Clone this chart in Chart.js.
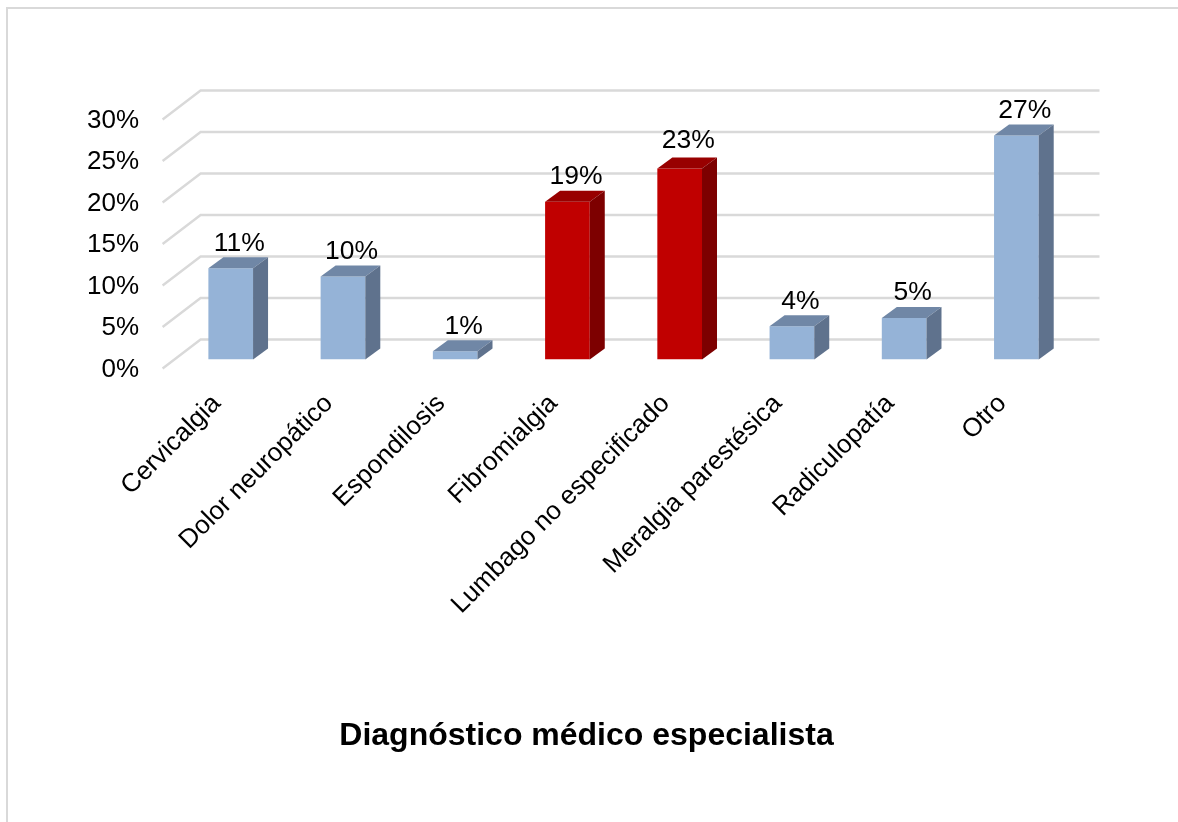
<!DOCTYPE html>
<html lang="es">
<head>
<meta charset="utf-8">
<title>Diagnóstico médico especialista</title>
<script src="https://cdn.jsdelivr.net/npm/chart.js@4"></script>
<style>
  html, body { margin: 0; padding: 0; background: #fff; overflow: hidden; }
  #frame {
    position: absolute; left: 6px; top: 7px; width: 1172px; height: 815px;
    border-left: 2px solid #d9d9d9; border-top: 2px solid #d9d9d9;
    box-sizing: border-box;
  }
  canvas { position: absolute; left: 0; top: 0; }
</style>
</head>
<body>
<div id="frame"></div>
<canvas id="myBarChart" width="1178" height="822"></canvas>
<script>
const categories = [
  "Cervicalgia",
  "Dolor neuropático",
  "Espondilosis",
  "Fibromialgia",
  "Lumbago no especificado",
  "Meralgia parestésica",
  "Radiculopatía",
  "Otro",
];
const percentages = [11, 10, 1, 19, 23, 4, 5, 27];
const highlighted = [false, false, false, true, true, false, false, false];
const axisTitle = "Diagnóstico médico especialista";

const FONT = '"Liberation Sans", Arial, sans-serif';
const BLUE = { front: "#95b3d7", top: "#7087a6", side: "#5f728d" };
const RED = { front: "#c00000", top: "#980000", side: "#7d0000" };

// Floor depth of the fake 3D box, measured from the bar plane
const barDepth = { x: 15, y: 11 };
const wallBack = { x: 26, y: 20 };
const wallFront = { x: -12, y: 9 };

// Back wall and left side lines, one pair per tick
const wallGrid = {
  id: "wallGrid",
  beforeDatasetsDraw(chart) {
    const { ctx, chartArea, scales } = chart;
    ctx.save();
    ctx.strokeStyle = "#d9d9d9";
    ctx.lineWidth = 2.4;
    scales.y.ticks.forEach((tick) => {
      const y = scales.y.getPixelForValue(tick.value);
      ctx.beginPath();
      ctx.moveTo(chartArea.left + wallFront.x, y + wallFront.y);
      ctx.lineTo(chartArea.left + wallBack.x, y - wallBack.y);
      ctx.lineTo(chartArea.right + wallBack.x + 1, y - wallBack.y);
      ctx.stroke();
    });
    ctx.restore();
  },
};

// Top and side faces of every bar, then the value above it
const barFaces = {
  id: "barFaces",
  afterDatasetsDraw(chart) {
    const { ctx } = chart;
    const bars = chart.getDatasetMeta(0).data;
    ctx.save();
    bars.forEach((bar, i) => {
      const colors = highlighted[i] ? RED : BLUE;
      const left = bar.x - bar.width / 2;
      const right = bar.x + bar.width / 2;
      const top = bar.y;
      const bottom = bar.base;

      ctx.fillStyle = colors.top;
      ctx.beginPath();
      ctx.moveTo(left, top);
      ctx.lineTo(left + barDepth.x, top - barDepth.y);
      ctx.lineTo(right + barDepth.x, top - barDepth.y);
      ctx.lineTo(right, top);
      ctx.closePath();
      ctx.fill();

      ctx.fillStyle = colors.side;
      ctx.beginPath();
      ctx.moveTo(right, top);
      ctx.lineTo(right + barDepth.x, top - barDepth.y);
      ctx.lineTo(right + barDepth.x, bottom - barDepth.y);
      ctx.lineTo(right, bottom);
      ctx.closePath();
      ctx.fill();

      // the Lumbago label sits a little higher than the others
      const lift = categories[i].startsWith("Lumbago") ? 28 : 25;
      ctx.fillStyle = "#000";
      ctx.font = "26.5px " + FONT;
      ctx.textAlign = "center";
      ctx.textBaseline = "middle";
      ctx.fillText(percentages[i] + "%", bar.x + 8.5, top - lift);
    });
    ctx.restore();
  },
};

const ctxBar = document.getElementById("myBarChart");
const myBarChart = new Chart(ctxBar, {
  type: "bar",
  data: {
    labels: categories,
    datasets: [
      {
        data: percentages,
        backgroundColor: highlighted.map((h) => (h ? RED.front : BLUE.front)),
        barPercentage: 1,
        categoryPercentage: 0.398,
      },
    ],
  },
  options: {
    responsive: false,
    animation: false,
    layout: {
      padding: { top: 110.5, left: 0, right: 5, bottom: 0 },
    },
    scales: {
      x: {
        border: { display: false },
        grid: { display: false, drawTicks: false },
        afterFit(scale) {
          scale.height = 357.7;
        },
        ticks: {
          autoSkip: false,
          maxRotation: 45,
          minRotation: 45,
          padding: 29,
          labelOffset: -14,
          color: "#000",
          font: { family: FONT, size: 26 },
        },
      },
      y: {
        min: 0,
        max: 30,
        border: { display: false },
        grid: { display: false, drawTicks: false },
        afterFit(scale) {
          scale.width = 174.6;
        },
        ticks: {
          stepSize: 5,
          padding: 35.6,
          labelOffset: 10,
          color: "#000",
          font: { family: FONT, size: 26 },
          callback: (value) => value + "%",
        },
      },
      // empty axis that keeps the bars clear of the right edge
      spacer: {
        position: "right",
        border: { display: false },
        grid: { display: false, drawTicks: false },
        ticks: { display: false },
        afterFit(scale) {
          scale.width = 100.5;
        },
      },
    },
    plugins: {
      legend: { display: false },
      tooltip: { enabled: false },
      title: {
        display: true,
        text: axisTitle,
        position: "bottom",
        color: "#000",
        font: { family: FONT, size: 32, weight: "bold" },
        padding: { top: 0, bottom: 66.4 },
      },
    },
  },
  plugins: [wallGrid, barFaces],
});
</script>
</body>
</html>
